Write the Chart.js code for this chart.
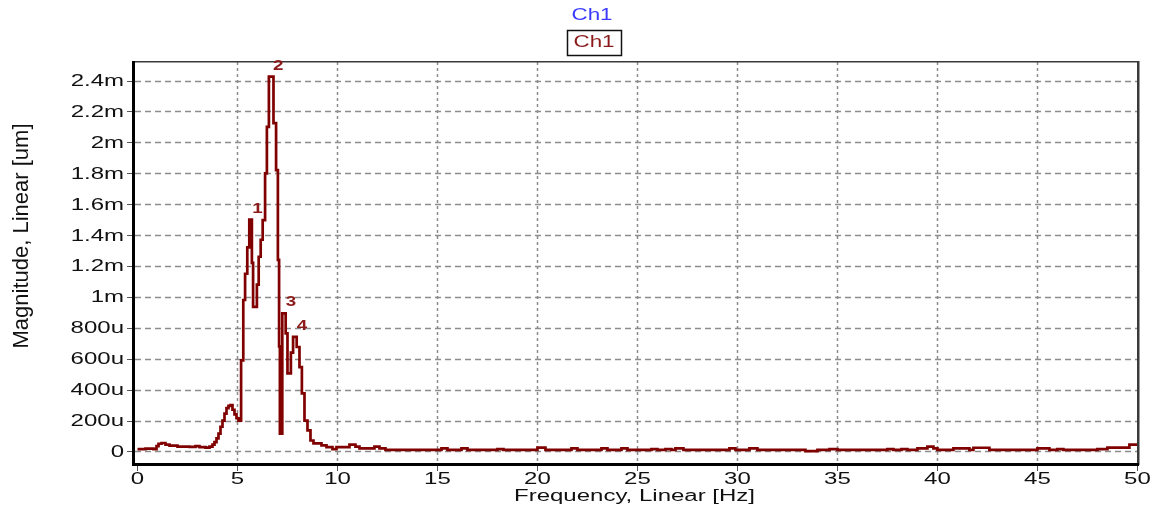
<!DOCTYPE html>
<html><head><meta charset="utf-8">
<script src="https://cdn.jsdelivr.net/npm/chart.js@4"></script>
<style>html,body{margin:0;padding:0;background:#fff;overflow:hidden}#wrap{width:1156px;height:513px}</style>
</head><body><div id="wrap"><canvas id="c" width="1156" height="513"></canvas></div>
<script>
// ---- data (magnitude in "u" units; 1000u = 1m) ----
const freqHz = [0.00,0.40,0.80,0.95,1.05,1.20,1.40,1.60,2.00,2.60,2.90,3.10,3.40,3.60,3.75,3.85,3.95,4.05,4.15,4.25,4.35,4.45,4.55,4.65,4.75,4.85,4.95,5.05,5.18,5.29,5.38,5.49,5.59,5.72,5.78,5.97,6.06,6.16,6.26,6.38,6.47,6.57,6.80,6.93,7.02,7.08,7.12,7.24,7.41,7.50,7.67,7.78,7.96,8.10,8.22,8.35,8.50,8.65,8.80,9.20,9.45,9.75,9.95,10.60,10.90,11.10,11.85,12.10,12.40,15.20,15.50,16.20,16.50,18.00,18.30,20.00,20.40,21.70,22.00,23.20,23.50,24.20,24.50,25.70,26.00,26.40,26.70,26.90,27.30,29.60,29.90,30.60,31.00,33.40,34.00,34.60,35.00,37.50,37.80,38.20,38.50,39.00,39.50,39.80,40.00,40.80,41.60,41.80,42.60,45.00,45.60,46.00,46.30,48.00,48.50,49.60,50.00];
const magnitude = [15,18,15,35,50,55,45,38,32,30,35,28,25,32,45,60,85,115,160,200,245,280,295,300,270,240,215,200,590,980,1150,1320,1500,1220,935,1080,1260,1370,1497,1800,2100,2425,2125,1820,1240,680,115,894,764,505,640,741,676,546,376,200,136,71,52,40,28,15,28,45,32,20,32,20,10,20,10,20,10,15,10,25,10,20,10,20,10,20,10,15,10,15,10,20,10,20,10,20,10,2,10,15,10,15,10,15,10,20,32,20,10,20,10,24,10,20,10,15,10,15,25,45,45];
const xTickValues = [0,5,10,15,20,25,30,35,40,45,50];
const xTickLabels = ['0','5','10','15','20','25','30','35','40','45','50'];
const yTickValues = [0,200,400,600,800,1000,1200,1400,1600,1800,2000,2200,2400];
const yTickLabels = ['0','200u','400u','600u','800u','1m','1.2m','1.4m','1.6m','1.8m','2m','2.2m','2.4m'];
const markerLabels = ['1','2','3','4'];
const markerFreq = [5.655,6.685,7.325,7.87];
const markerMag = [1500,2425,894,741];
const seriesName = 'Ch1';
const xTitle = 'Frequency, Linear [Hz]';
const yTitle = 'Magnitude, Linear [um]';

const FONT = '"Liberation Sans", Arial, sans-serif';
function txt(ctx, s, x, y, o) {
  o = o || {};
  ctx.save();
  ctx.font = (o.weight || 'normal') + ' ' + (o.size || 16) + 'px ' + FONT;
  ctx.fillStyle = o.color || '#000';
  ctx.textBaseline = 'middle';
  ctx.textAlign = o.align || 'center';
  ctx.translate(x, y);
  if (o.rot) ctx.rotate(o.rot);
  ctx.scale(o.sx || 1, o.sy || 1);
  ctx.fillText(s, 0, 0);
  ctx.restore();
}

const framePlugin = {
  id: 'frame',
  beforeDatasetsDraw(chart) {
    const ctx = chart.ctx, a = chart.chartArea, xs = chart.scales.x, ys = chart.scales.y;
    ctx.save();
    ctx.strokeStyle = '#8c8c8c';
    ctx.lineWidth = 1.5;
    // vertical grid
    ctx.setLineDash([3, 3]);
    xTickValues.forEach(v => {
      if (v === xTickValues[0] || v === xTickValues[xTickValues.length - 1]) return;
      const px = Math.round(xs.getPixelForValue(v)) + 0.5;
      ctx.beginPath(); ctx.moveTo(px, a.top); ctx.lineTo(px, a.bottom); ctx.stroke();
    });
    // horizontal grid
    ctx.setLineDash([6, 4]);
    yTickValues.forEach(v => {
      const py = Math.round(ys.getPixelForValue(v)) + 0.5;
      ctx.beginPath(); ctx.moveTo(a.left, py); ctx.lineTo(a.right, py); ctx.stroke();
    });
    ctx.restore();
  },
  afterDatasetsDraw(chart) {
    const ctx = chart.ctx, a = chart.chartArea, xs = chart.scales.x, ys = chart.scales.y;
    ctx.save();
    // top and right border
    ctx.fillStyle = '#3a3a3a';
    ctx.fillRect(a.left - 1, a.top - 1, a.right - a.left + 2, 1.5);
    ctx.fillRect(a.right - 1, a.top - 1, 2.5, a.bottom - a.top + 2);
    // left and bottom axes (thick)
    ctx.fillStyle = '#000';
    ctx.fillRect(a.left - 3, a.top - 1, 3, a.bottom - a.top + 3);
    ctx.fillRect(a.left - 3, a.bottom - 1, a.right - a.left + 4, 3);
    // tick marks
    ctx.fillStyle = '#555';
    yTickValues.forEach(v => {
      const py = ys.getPixelForValue(v);
      ctx.fillRect(a.left - 8, Math.round(py), 5, 1);
    });
    xTickValues.forEach(v => {
      const px = xs.getPixelForValue(v);
      ctx.fillRect(Math.round(px), a.bottom + 2, 1, 5);
    });
    ctx.restore();
    // tick labels
    yTickValues.forEach((v, i) => {
      txt(ctx, yTickLabels[i], a.left - 11, ys.getPixelForValue(v) + 1, {align: 'right', sx: 1.5, color: '#111'});
    });
    xTickValues.forEach((v, i) => {
      txt(ctx, xTickLabels[i], xs.getPixelForValue(v), a.bottom + 16, {sx: 1.5, color: '#111'});
    });
    // axis titles
    txt(ctx, xTitle, (a.left + a.right) / 2 - 2, a.bottom + 33, {sx: 1.5, color: '#111'});
    txt(ctx, yTitle, 22, (a.top + a.bottom) / 2 - 27, {size: 22, sx: 1.0, rot: -Math.PI / 2, color: '#111'});
    // peak markers
    markerLabels.forEach((m, i) => {
      txt(ctx, m, xs.getPixelForValue(markerFreq[i]) + 7, ys.getPixelForValue(markerMag[i]) - 11,
        {size: 15, weight: 'bold', sx: 1.25, color: '#8b1a1a'});
    });
    // title and legend
    txt(ctx, seriesName, 592, 16, {sx: 1.4, color: '#3b3bff'});
    ctx.save();
    ctx.strokeStyle = '#111'; ctx.lineWidth = 1.5;
    ctx.strokeRect(567.5, 30.5, 54, 25);
    ctx.restore();
    txt(ctx, chart.data.datasets[0].label, 594, 43, {sx: 1.4, color: '#8b1a1a'});
  }
};

new Chart(document.getElementById('c'), {
  type: 'line',
  data: {
    datasets: [{
      label: seriesName,
      data: freqHz.map((f, i) => ({x: f, y: magnitude[i]})),
      borderColor: '#800000',
      borderWidth: 2.7,
      pointRadius: 0,
      stepped: true,
      fill: false,
      borderJoinStyle: 'miter'
    }]
  },
  options: {
    responsive: false,
    animation: false,
    devicePixelRatio: 1,
    layout: {padding: {left: 135, right: 18, top: 62, bottom: 49}},
    plugins: {legend: {display: false}, title: {display: false}, tooltip: {enabled: false}},
    scales: {
      x: {type: 'linear', display: false, min: -0.125, max: 50.03},
      y: {type: 'linear', display: false, min: -81, max: 2520}
    }
  },
  plugins: [framePlugin]
});
</script>
</body></html>
